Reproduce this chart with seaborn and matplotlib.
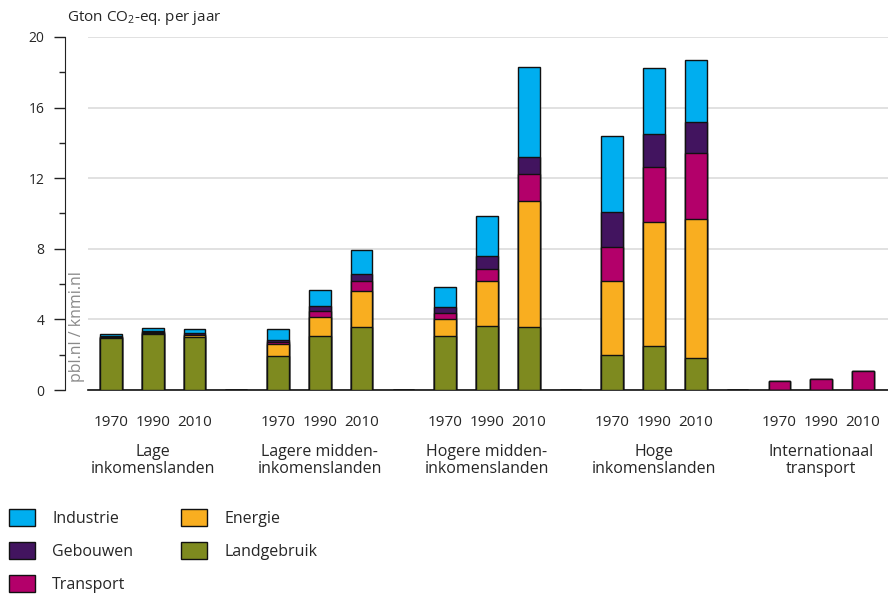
import numpy as np
import pandas as pd
import matplotlib.pyplot as plt
import matplotlib.patches as mpatches
import seaborn as sns

# --- data (Gton CO2-eq. per jaar) ---
groups = ["Lage\ninkomenslanden", "Lagere midden-\ninkomenslanden",
          "Hogere midden-\ninkomenslanden", "Hoge\ninkomenslanden",
          "Internationaal\ntransport"]
years = ["1970", "1990", "2010"]

landgebruik = [2.95, 3.20, 3.00, 1.90, 3.05, 3.55, 3.05, 3.65, 3.55, 2.00, 2.50, 1.80, 0.0, 0.0, 0.0]
energie = [0.03, 0.03, 0.10, 0.70, 1.10, 2.05, 1.00, 2.50, 7.15, 4.20, 7.00, 7.90, 0.0, 0.0, 0.0]
transport = [0.02, 0.03, 0.03, 0.10, 0.33, 0.55, 0.30, 0.70, 1.55, 1.90, 3.15, 3.75, 0.50, 0.60, 1.10]
gebouwen = [0.05, 0.10, 0.10, 0.15, 0.28, 0.40, 0.35, 0.72, 0.95, 2.00, 1.85, 1.75, 0.0, 0.0, 0.0]
industrie = [0.12, 0.17, 0.20, 0.60, 0.90, 1.40, 1.15, 2.27, 5.10, 4.30, 3.75, 3.50, 0.0, 0.0, 0.0]

series = ["Landgebruik", "Energie", "Transport", "Gebouwen", "Industrie"]
colors = {
    "Industrie": "#00AEEF",
    "Gebouwen": "#42145F",
    "Transport": "#B3006A",
    "Energie": "#F9AE20",
    "Landgebruik": "#7E8A1F",
}

# one slot per bar, plus an empty slot after each group
rows = []
vals = dict(zip(series, [landgebruik, energie, transport, gebouwen, industrie]))
slot = 0
for g in range(len(groups)):
    for y in range(len(years)):
        i = g * 3 + y
        rows.append({"slot": slot, "year": years[y],
                     **{s: vals[s][i] for s in series}})
        slot += 1
    if g < len(groups) - 1:
        rows.append({"slot": slot, "year": "", **{s: 0.0 for s in series}})
        slot += 1
df = pd.DataFrame(rows)
cum = df[series].cumsum(axis=1)
n_slots = len(df)

sns.set_style("white")
plt.rcParams["font.family"] = ["Open Sans", "DejaVu Sans"]
plt.rcParams["mathtext.fontset"] = "custom"
plt.rcParams["mathtext.rm"] = "Open Sans"
plt.rcParams["mathtext.default"] = "regular"

fig = plt.figure(figsize=(8.88, 5.96), dpi=100)
ax = fig.add_axes([88 / 888, 206 / 596, 800 / 888, 353 / 596])

# stacked bars: draw cumulative totals from top layer down
for s in reversed(series):
    sns.barplot(x=df["slot"], y=cum[s], order=list(range(n_slots)),
                color=colors[s], saturation=1, width=0.52, errorbar=None,
                edgecolor="#111111", linewidth=1.0, ax=ax, zorder=3)

ax.set_xlim(-0.55, n_slots - 0.4)
ax.set_ylim(0, 20)
ax.set_yticks([0, 4, 8, 12, 16, 20])
ax.set_yticklabels(["0", "4", "8", "12", "16", "20"], fontsize=11)
ax.set_yticks([2, 6, 10, 14, 18], minor=True)
ax.tick_params(axis="y", which="major", length=8, width=1, color="#222222",
               direction="out", left=True, pad=7)
ax.tick_params(axis="y", which="minor", length=4.5, width=1, color="#222222",
               direction="out", left=True)
ax.yaxis.grid(True, color="#dcdcdc", linewidth=1.2)
ax.set_axisbelow(True)
for sp in ["top", "right"]:
    ax.spines[sp].set_visible(False)
ax.spines["left"].set_position(("outward", 16.5))
ax.spines["left"].set_color("#222222")
ax.spines["bottom"].set_color("#111111")
ax.spines["bottom"].set_linewidth(1.2)

ax.set_xticks(df["slot"])
ax.set_xticklabels(df["year"], fontsize=11)
ax.tick_params(axis="x", length=0, pad=18)
ax.set_xlabel("")
ax.set_ylabel("")

trans = ax.get_xaxis_transform()
for g, name in enumerate(groups):
    ax.text(g * 4 + 1, -0.152, name, transform=trans, ha="center", va="top",
            fontsize=11.5, linespacing=1.1)

fig.text(67 / 888, 1 - 18 / 596, "Gton CO$_2$-eq. per jaar", fontsize=11,
         ha="left", va="center")
fig.text(77 / 888, 1 - 327 / 596, "pbl.nl / knmi.nl", rotation=90,
         fontsize=11.5, color="#8a8a8a", ha="center", va="center")

handles = [mpatches.Patch(facecolor=colors[s], edgecolor="#111111",
                          linewidth=1, label=s)
           for s in ["Industrie", "Gebouwen", "Transport", "Energie", "Landgebruik"]]
fig.legend(handles=handles, ncol=2, loc="upper left",
           bbox_to_anchor=(9 / 888, 1 - 509 / 596), frameon=False,
           fontsize=11.5, handlelength=1.6, handleheight=1.25,
           handletextpad=1.1, labelspacing=0.95, columnspacing=3.0,
           borderpad=0, borderaxespad=0)

fig.savefig("out.png", dpi=100)
